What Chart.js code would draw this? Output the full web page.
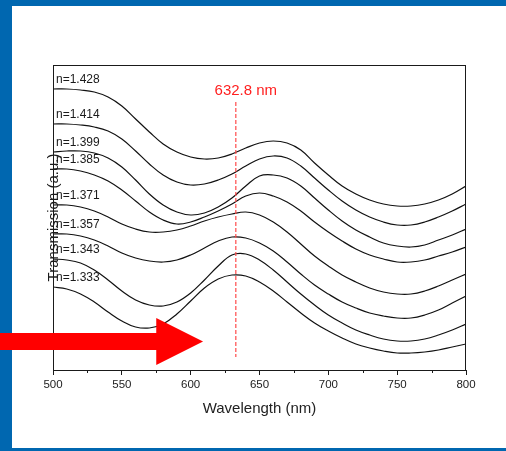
<!DOCTYPE html>
<html>
<head>
<meta charset="utf-8">
<script src="https://cdn.jsdelivr.net/npm/chart.js@4"></script>
<style>
  html, body { margin: 0; padding: 0; background: #ffffff; }
  canvas { display: block; }
</style>
</head>
<body>
<canvas id="c" width="506" height="451"></canvas>
<script>
// Wavelength grid (nm)
const WAVELENGTH = [500,510,520,530,540,550,560,570,580,590,600,610,620,630,640,650,
                    660,670,680,690,700,710,720,730,740,750,760,770,780,790,800];

// Refractive index of the surrounding liquid, one spectrum each
const INDEX_LABELS = ['n=1.428','n=1.414','n=1.399','n=1.385','n=1.371','n=1.357','n=1.343','n=1.333'];

// Transmission spectra (a.u., vertically offset)
const T_1428 = [2.81,2.81,2.80,2.78,2.73,2.64,2.51,2.38,2.26,2.18,2.13,2.11,2.12,2.16,2.22,2.27,
                2.29,2.27,2.20,2.07,1.95,1.84,1.76,1.70,1.66,1.64,1.64,1.66,1.70,1.76,1.84];
const T_1414 = [2.46,2.46,2.45,2.43,2.39,2.31,2.19,2.06,1.95,1.88,1.85,1.86,1.90,1.96,2.04,2.11,
                2.14,2.12,2.04,1.92,1.80,1.69,1.60,1.53,1.48,1.45,1.45,1.48,1.53,1.59,1.66];
const T_1399 = [2.18,2.19,2.19,2.17,2.12,2.03,1.90,1.76,1.65,1.58,1.55,1.57,1.63,1.72,1.84,1.94,
                1.95,1.92,1.84,1.72,1.60,1.49,1.40,1.33,1.27,1.24,1.23,1.25,1.30,1.35,1.41];
const T_1385 = [2.01,2.01,1.99,1.95,1.89,1.80,1.69,1.58,1.50,1.46,1.48,1.53,1.59,1.66,1.74,1.77,
                1.74,1.68,1.59,1.48,1.38,1.29,1.21,1.15,1.11,1.08,1.08,1.10,1.14,1.18,1.23];
const T_1371 = [1.65,1.65,1.63,1.59,1.53,1.46,1.41,1.38,1.38,1.40,1.44,1.49,1.53,1.56,1.58,1.55,
                1.48,1.38,1.26,1.14,1.04,0.95,0.88,0.82,0.78,0.76,0.76,0.79,0.84,0.90,0.96];
const T_1357 = [1.36,1.36,1.34,1.30,1.24,1.17,1.12,1.09,1.08,1.10,1.15,1.22,1.29,1.33,1.32,1.27,
                1.19,1.08,0.96,0.85,0.76,0.68,0.62,0.57,0.54,0.52,0.52,0.55,0.60,0.67,0.74];
const T_1343 = [1.11,1.10,1.07,1.00,0.90,0.79,0.70,0.65,0.64,0.68,0.77,0.90,1.04,1.15,1.16,1.10,
                1.00,0.88,0.76,0.65,0.55,0.47,0.40,0.35,0.31,0.29,0.29,0.31,0.35,0.40,0.46];
const T_1333 = [0.83,0.81,0.76,0.68,0.58,0.49,0.43,0.42,0.46,0.56,0.69,0.82,0.91,0.95,0.94,0.88,
                0.79,0.68,0.57,0.47,0.39,0.32,0.26,0.22,0.19,0.17,0.17,0.18,0.20,0.23,0.26];

const SERIES = [T_1428, T_1414, T_1399, T_1385, T_1371, T_1357, T_1343, T_1333];

// Probe laser wavelength and the extent of its marker line
const LASER_WL = 632.8;
const LASER_LABEL = '632.8 nm';
const LASER_SPAN = [0.13, 2.68];

// Arrow pointing into the spectra: tip / head base (nm) and height (a.u.)
const ARROW_TIP = 609;
const ARROW_BASE = 575;
const ARROW_LEVEL = 0.285;

const X_TICKS = [500,550,600,650,700,750,800];
const X_MINOR = [525,575,625,675,725,775];

const FONT = '"Liberation Sans", Arial, Helvetica, sans-serif';
const INK = '#1a1a1a';

const decorations = {
  id: 'decorations',
  beforeDraw(chart) {
    const ctx = chart.ctx;
    ctx.save();
    ctx.fillStyle = '#0067b0';
    ctx.fillRect(0, 0, chart.width, chart.height);
    ctx.fillStyle = '#ffffff';
    ctx.fillRect(12, 6, chart.width - 12, 442);
    ctx.restore();
  },
  afterDatasetsDraw(chart) {
    const ctx = chart.ctx;
    const xs = chart.scales.x, ys = chart.scales.y;
    const a = chart.chartArea;
    ctx.save();

    // frame
    ctx.strokeStyle = INK;
    ctx.lineWidth = 1;
    ctx.strokeRect(Math.round(a.left) + 0.5, Math.round(a.top) + 0.5,
                   Math.round(a.right - a.left) - 1, Math.round(a.bottom - a.top));

    // minor ticks
    ctx.beginPath();
    X_MINOR.forEach(v => {
      const px = Math.round(xs.getPixelForValue(v)) + 0.5;
      ctx.moveTo(px, a.bottom);
      ctx.lineTo(px, a.bottom + 3);
    });
    ctx.stroke();

    // laser marker
    const lx = xs.getPixelForValue(LASER_WL);
    ctx.strokeStyle = '#ff4a4a';
    ctx.lineWidth = 1.2;
    ctx.setLineDash([4, 2]);
    ctx.beginPath();
    ctx.moveTo(lx, ys.getPixelForValue(LASER_SPAN[1]));
    ctx.lineTo(lx, ys.getPixelForValue(LASER_SPAN[0]));
    ctx.stroke();
    ctx.setLineDash([]);
    ctx.fillStyle = '#ff1f1f';
    ctx.font = '15px ' + FONT;
    ctx.textAlign = 'center';
    ctx.textBaseline = 'middle';
    ctx.fillText(LASER_LABEL, lx + 10, ys.getPixelForValue(LASER_SPAN[1]) - 11);

    // curve labels
    ctx.fillStyle = INK;
    ctx.font = '12px ' + FONT;
    ctx.textAlign = 'left';
    SERIES.forEach((s, i) => {
      ctx.fillText(INDEX_LABELS[i], a.left + 3, ys.getPixelForValue(s[0]) - 9);
    });

    // y-axis title, set over the plot's left edge
    ctx.font = '15px ' + FONT;
    ctx.textAlign = 'center';
    ctx.textBaseline = 'middle';
    ctx.translate(a.left + 1, (a.top + a.bottom) / 2);
    ctx.rotate(-Math.PI / 2);
    ctx.fillText('Transmission (a.u.)', 0, 0);
    ctx.restore();
  },
  afterDraw(chart) {
    const ctx = chart.ctx;
    const xs = chart.scales.x, ys = chart.scales.y;
    const tip = xs.getPixelForValue(ARROW_TIP);
    const base = xs.getPixelForValue(ARROW_BASE);
    const cy = ys.getPixelForValue(ARROW_LEVEL);
    ctx.save();
    ctx.fillStyle = '#ff0000';
    ctx.beginPath();
    ctx.moveTo(0, cy - 8.5);
    ctx.lineTo(base, cy - 8.5);
    ctx.lineTo(base, cy - 23.5);
    ctx.lineTo(tip, cy);
    ctx.lineTo(base, cy + 23.5);
    ctx.lineTo(base, cy + 8.5);
    ctx.lineTo(0, cy + 8.5);
    ctx.closePath();
    ctx.fill();
    ctx.restore();
  }
};

new Chart(document.getElementById('c'), {
  type: 'line',
  data: {
    datasets: SERIES.map((s, i) => ({
      label: INDEX_LABELS[i],
      data: WAVELENGTH.map((w, k) => ({ x: w, y: s[k] })),
      borderColor: '#111111',
      borderWidth: 1.2,
      pointRadius: 0,
      fill: false,
      tension: 0.4
    }))
  },
  options: {
    responsive: false,
    animation: false,
    devicePixelRatio: 1,
    layout: { padding: { left: 53, right: 40, top: 65, bottom: 0 } },
    plugins: { legend: { display: false }, tooltip: { enabled: false } },
    scales: {
      x: {
        type: 'linear',
        min: 500,
        max: 800,
        afterFit: s => { s.height = 81; },
        afterBuildTicks: s => { s.ticks = X_TICKS.map(v => ({ value: v })); },
        grid: { drawOnChartArea: false, drawTicks: true, tickLength: 5, tickColor: INK },
        border: { display: false },
        ticks: { color: '#222', font: { family: FONT, size: 11.5 }, padding: 3, maxRotation: 0, autoSkip: false },
        title: { display: true, text: 'Wavelength (nm)', color: '#222',
                 font: { family: FONT, size: 15 }, padding: { top: 0, bottom: 33 } }
      },
      y: {
        display: false,
        min: 0,
        max: 3.05
      }
    }
  },
  plugins: [decorations]
});
</script>
</body>
</html>
